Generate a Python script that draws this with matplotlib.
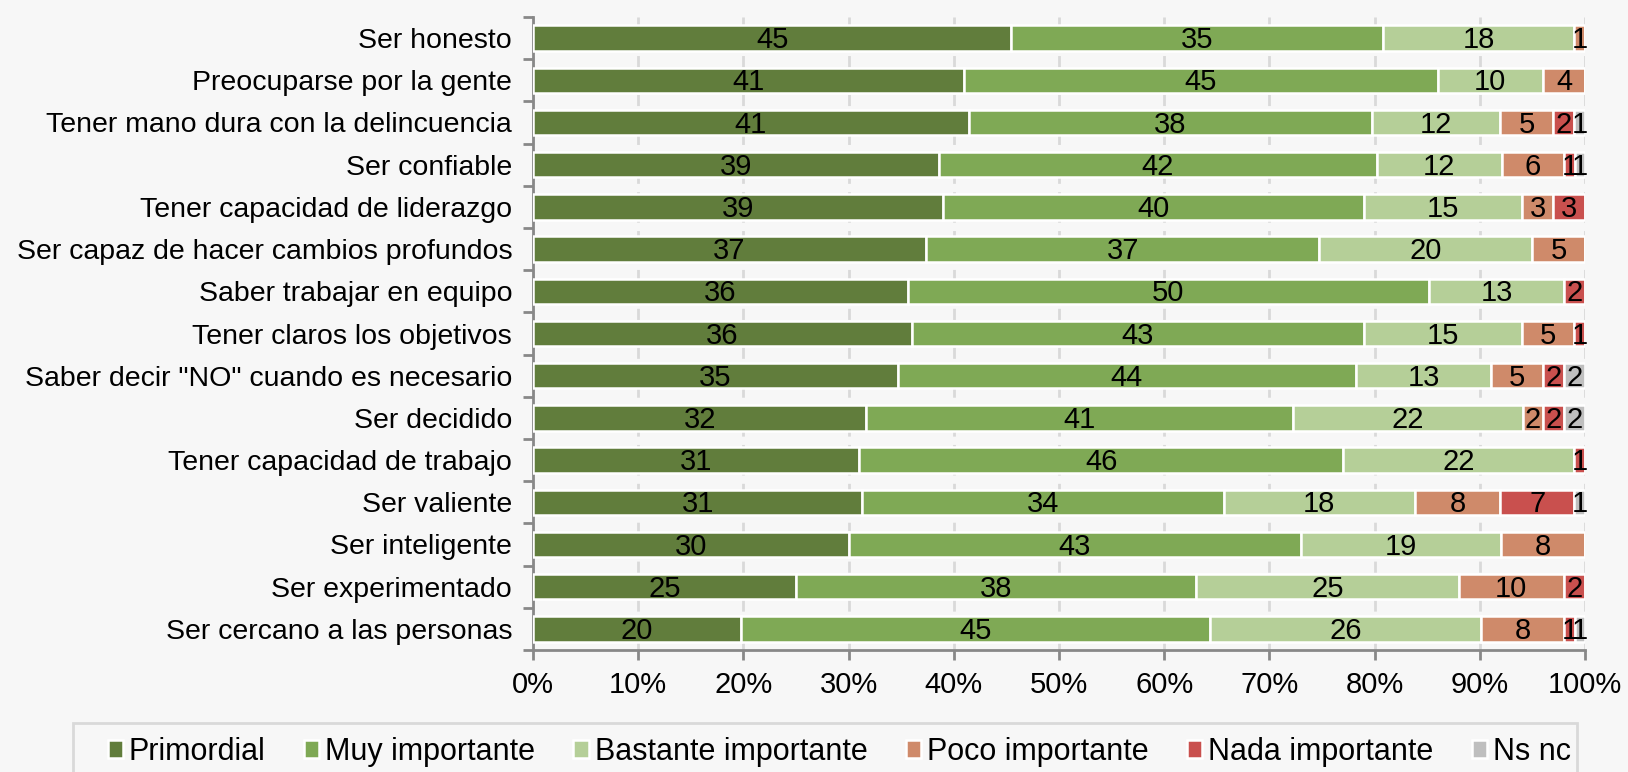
import numpy as np
import matplotlib.pyplot as plt
from matplotlib.patches import Rectangle

plt.rcParams['font.family'] = ['Liberation Sans', 'DejaVu Sans']

# Categorías (de arriba a abajo)
atributos = ['Ser honesto', 'Preocuparse por la gente', 'Tener mano dura con la delincuencia',
             'Ser confiable', 'Tener capacidad de liderazgo', 'Ser capaz de hacer cambios profundos',
             'Saber trabajar en equipo', 'Tener claros los objetivos',
             'Saber decir "NO" cuando es necesario', 'Ser decidido', 'Tener capacidad de trabajo',
             'Ser valiente', 'Ser inteligente', 'Ser experimentado', 'Ser cercano a las personas']

series = ['Primordial', 'Muy importante', 'Bastante importante', 'Poco importante',
          'Nada importante', 'Ns nc']

primordial = [45, 41, 41, 39, 39, 37, 36, 36, 35, 32, 31, 31, 30, 25, 20]
muy_imp    = [35, 45, 38, 42, 40, 37, 50, 43, 44, 41, 46, 34, 43, 38, 45]
bastante   = [18, 10, 12, 12, 15, 20, 13, 15, 13, 22, 22, 18, 19, 25, 26]
poco       = [1, 4, 5, 6, 3, 5, 0, 5, 5, 2, 0, 8, 8, 10, 8]
nada       = [0, 0, 2, 1, 3, 0, 2, 1, 2, 2, 1, 7, 0, 2, 1]
ns_nc      = [0, 0, 1, 1, 0, 0, 0, 0, 2, 2, 0, 1, 0, 0, 1]

colores = ['#617d3c', '#7fa955', '#b5cf98', '#cf8a6a', '#c9504e', '#bfbfbf']

datos = np.array([primordial, muy_imp, bastante, poco, nada, ns_nc], dtype=float)
# Gráfico apilado al 100%
pct = datos / datos.sum(axis=0) * 100

W, H = 1628, 772
fig = plt.figure(figsize=(W / 100, H / 100), dpi=100, facecolor='#f7f7f7')
ax = fig.add_axes([533 / W, 1 - 650 / H, (1585 - 533) / W, (650 - 17) / H])
ax.set_facecolor('#f7f7f7')

y = np.arange(len(atributos))
izq = np.zeros(len(atributos))
for i, nombre in enumerate(series):
    barras = ax.barh(y, pct[i], left=izq, height=0.6, color=colores[i],
                     edgecolor='white', linewidth=1.8, label=nombre, zorder=3)
    for j, b in enumerate(barras):
        if datos[i, j] > 0:
            ax.text(izq[j] + pct[i, j] / 2, y[j] + 0.05, f'{int(datos[i, j])}',
                    ha='center', va='center', fontsize=21, color='black', zorder=4)
    izq += pct[i]

ax.set_xlim(0, 100)
ax.set_ylim(len(atributos) - 0.5, -0.5)
ax.set_yticks(y)
ax.set_yticklabels(atributos, fontsize=20.5)
ax.set_yticks(np.arange(len(atributos) + 1) - 0.5, minor=True)
ax.tick_params(axis='y', which='major', length=0, pad=15)
ax.tick_params(axis='y', which='minor', length=7, width=2, color='#888888')
ax.set_xticks(np.arange(0, 101, 10))
ax.set_xticklabels([f'{v}%' for v in range(0, 101, 10)], fontsize=21)
ax.tick_params(axis='x', length=7, width=2, color='#888888', pad=8)

ax.grid(axis='x', color='#d9d9d9', linestyle=(0, (4, 3)), linewidth=2, zorder=0)
for s in ['top', 'right']:
    ax.spines[s].set_visible(False)
for s in ['left', 'bottom']:
    ax.spines[s].set_color('#888888')
    ax.spines[s].set_linewidth(2)

# Marco de la leyenda
fig.patches.append(Rectangle((73 / W, -0.05), (1577 - 73) / W, 0.05 + 1 - 723 / H,
                             transform=fig.transFigure, facecolor='none',
                             edgecolor='#d9d9d9', linewidth=2))
fig.legend(loc='center left', bbox_to_anchor=(80 / W, 1 - 752 / H), ncol=6, frameon=False,
           fontsize=22, handlelength=0.5, handleheight=0.5, handletextpad=0.2,
           columnspacing=1.25)

fig.savefig('out.png', dpi=100, facecolor=fig.get_facecolor())
